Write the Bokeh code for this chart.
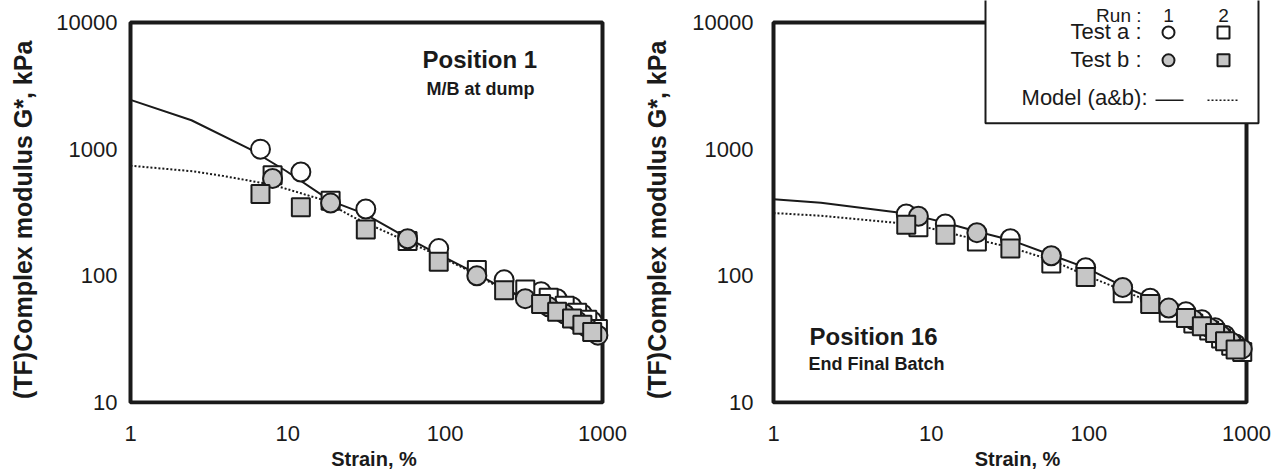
from bokeh.plotting import figure
from bokeh.layouts import row
from bokeh.models import Range1d, FixedTicker, PrintfTickFormatter, Label
from bokeh.embed import file_html
from bokeh.resources import INLINE

# ---------------- data ----------------
x_ticks = [1, 10, 100, 1000]
y_ticks = [10, 100, 1000, 10000]

# Position 1 (M/B at dump)
p1_strain_A = [6.7, 12.1, 31.3, 91, 237, 407, 515, 640, 745, 860]
p1_strain_B = [8.0, 18.7, 57.7, 159, 323, 455, 575, 690, 800, 935]
p1_test_a_run1 = [1000, 660, 337, 164, 93, 75, 66, 57, 50, 44]      # strain_A
p1_test_b_run2 = [442, 347, 232, 129, 77, 60, 52, 46, 41, 36]       # strain_A
p1_test_a_run2 = [622, 392, 188, 111, 78, 67, 58, 51, 45, 38]       # strain_B
p1_test_b_run1 = [587, 375, 196, 100, 66, 57, 50, 44, 39, 34]       # strain_B
p1_model1_x = [1, 2.44, 5.7, 9.7, 18.7, 30.8, 57, 81, 137, 202, 300, 500, 700, 1000]
p1_model1_y = [2450, 1690, 1005, 675, 390, 308, 200, 159, 114, 88, 69, 51, 41, 32]
p1_model2_x = [1, 2.5, 3.86, 8.15, 12, 16.1, 26.2, 47.2, 80, 137, 202, 300, 500, 700, 1000]
p1_model2_y = [740, 668, 615, 520, 450, 403, 290, 208, 155, 112, 86, 68, 50, 40, 32]

# Position 16 (End Final Batch)
p16_strain_A = [6.95, 12.3, 31.8, 95.5, 245, 413, 521, 632, 731, 853]
p16_strain_B = [8.3, 19.5, 57.8, 164, 321, 460, 580, 690, 800, 940]
p16_test_a_run1 = [308, 257, 196, 116, 66.5, 52, 45, 39, 34, 29]       # strain_A
p16_test_b_run2 = [253, 211, 164, 98, 60, 46.4, 40, 35.4, 30.5, 26.2]  # strain_A
p16_test_b_run1 = [295, 219, 144, 81, 55.6, 45, 39, 34, 30, 26.5]      # strain_B
p16_test_a_run2 = [242, 187, 125, 73, 51, 42, 37, 32, 28, 25]          # strain_B
p16_model1_x = [1, 2, 6, 8.3, 12.3, 19.5, 31.8, 57.8, 95.5, 164, 245, 321, 500, 700, 1000]
p16_model1_y = [403, 378, 318, 296, 262, 224, 192, 146, 116, 83, 67, 56, 43, 35, 27]
p16_model2_x = [1, 2, 6, 8.3, 12.3, 19.5, 31.8, 57.8, 95.5, 164, 245, 321, 500, 700, 1000]
p16_model2_y = [313, 298, 262, 250, 222, 193, 168, 133, 101, 77, 62, 53, 41, 33, 26]

# ---------------- style ----------------
FONT = "Liberation Sans"
INK = "#1a1a1a"
GREY = "#c6c6c6"
NBSP = "\u00a0"
X_LABEL = "Strain, %"
Y_LABEL = "(TF)Complex modulus G*, kPa"


class Panel:
    """A log-log panel whose drawn box (1..1000 x 10..10000) sits at given page pixels."""

    def __init__(self, fig_x0, box, frame, y_tick_gap, ylabel_standoff):
        self.bl, self.br, self.bt, self.bb = box
        self.fl, self.fr, self.ft, self.fb = frame
        self.dx = (self.br - self.bl) / 3.0
        self.dy = (self.bb - self.bt) / 3.0
        x0 = 10 ** ((self.fl - self.bl) / self.dx)
        x1 = 10 ** ((self.fr - self.bl) / self.dx)
        y0 = 10 ** (1 - (self.fb - self.bb) / self.dy)
        y1 = 10 ** (4 + (self.bt - self.ft) / self.dy)
        p = figure(width=636, height=472, x_axis_type="log", y_axis_type="log",
                   x_range=Range1d(x0, x1), y_range=Range1d(y0, y1),
                   output_backend="svg", toolbar_location=None, title=None,
                   min_border_left=self.fl - fig_x0,
                   min_border_right=fig_x0 + 636 - self.fr,
                   min_border_top=self.ft, min_border_bottom=472 - self.fb)
        p.outline_line_color = None
        p.grid.visible = False
        p.background_fill_color = "white"
        p.border_fill_color = "white"
        for ax in (p.xaxis[0], p.yaxis[0]):
            ax.axis_line_color = None
            ax.major_tick_line_color = None
            ax.minor_tick_line_color = None
            ax.major_tick_out = 0
            ax.major_tick_in = 0
            ax.minor_tick_out = 0
            ax.minor_tick_in = 0
            ax.major_label_text_font = FONT
            ax.major_label_text_font_size = "22px"
            ax.major_label_text_color = INK
            ax.axis_label_text_font = FONT
            ax.axis_label_text_font_style = "bold"
            ax.axis_label_text_color = INK
            ax.formatter = PrintfTickFormatter(format="%d")
        xa, ya = p.xaxis[0], p.yaxis[0]
        xa.ticker = FixedTicker(ticks=x_ticks, minor_ticks=[])
        ya.ticker = FixedTicker(ticks=y_ticks, minor_ticks=[])
        ya.bounds = (y_ticks[0], y_ticks[-1])
        xa.axis_label = X_LABEL
        xa.axis_label_text_font_size = "20px"
        xa.major_label_standoff = 23 - (self.fb - self.bb)
        xa.axis_label_standoff = 4
        ya.axis_label = Y_LABEL + NBSP * 5
        ya.axis_label_text_font_size = "25px"
        ya.major_label_standoff = y_tick_gap - (self.bl - self.fl)
        ya.axis_label_standoff = ylabel_standoff
        # the heavy plot box
        p.quad(left=[x_ticks[0]], right=[x_ticks[-1]], bottom=[y_ticks[0]],
               top=[y_ticks[-1]], fill_color=None, line_color=INK, line_width=4)
        self.p = p

    # page pixel -> data (for legend decorations)
    def dxp(self, sx):
        return 10 ** ((sx - self.bl) / self.dx)

    def dyp(self, sy):
        return 10 ** (4 - (sy - self.bt) / self.dy)

    def text(self, sx, sy, text, size, bold=False, align="left", baseline="middle"):
        self.p.add_layout(Label(x=sx - self.fl, y=self.fb - sy,
                                x_units="screen", y_units="screen", text=text,
                                text_font=FONT, text_font_size=size,
                                text_font_style="bold" if bold else "normal",
                                text_color=INK, text_align=align,
                                text_baseline=baseline))

    def series(self, sA, sB, a1, b2, a2, b1, m1x, m1y, m2x, m2y):
        p = self.p
        p.line(m1x, m1y, line_color=INK, line_width=2)
        p.line(m2x, m2y, line_color=INK, line_width=2, line_dash="2 2")
        p.scatter(sA, a1, marker="circle", size=19, fill_color="white",
                  line_color=INK, line_width=2)
        p.scatter(sB, a2, marker="square", size=18, fill_color="white",
                  line_color=INK, line_width=2)
        p.scatter(sB, b1, marker="circle", size=19, fill_color=GREY,
                  line_color=INK, line_width=2)
        p.scatter(sA, b2, marker="square", size=18, fill_color=GREY,
                  line_color=INK, line_width=2)


# ---------------- panel 1 ----------------
P1 = Panel(0, box=(130, 602, 22, 403), frame=(125, 622, 0, 405),
           y_tick_gap=13, ylabel_standoff=16)
P1.series(p1_strain_A, p1_strain_B, p1_test_a_run1, p1_test_b_run2,
          p1_test_a_run2, p1_test_b_run1, p1_model1_x, p1_model1_y,
          p1_model2_x, p1_model2_y)
P1.text(422, 60, "Position 1", "24px", bold=True)
P1.text(426, 89, "M/B at dump", "18px", bold=True)

# ---------------- panel 2 ----------------
P2 = Panel(636, box=(773, 1246, 22, 403), frame=(768, 1266, 0, 405),
           y_tick_gap=20, ylabel_standoff=18)
P2.series(p16_strain_A, p16_strain_B, p16_test_a_run1, p16_test_b_run2,
          p16_test_a_run2, p16_test_b_run1, p16_model1_x, p16_model1_y,
          p16_model2_x, p16_model2_y)
P2.text(809, 337, "Position 16", "24px", bold=True)
P2.text(808, 364, "End Final Batch", "18px", bold=True)

# legend box and keys (top-right of panel 2)
p2 = P2.p
p2.quad(left=[P2.dxp(985)], right=[P2.dxp(1258)], top=[P2.dyp(-10)],
        bottom=[P2.dyp(123)], fill_color="white", line_color=INK, line_width=2)
p2.scatter([P2.dxp(1168)], [P2.dyp(32)], marker="circle", size=12,
           fill_color="white", line_color=INK, line_width=2)
p2.scatter([P2.dxp(1223)], [P2.dyp(32)], marker="square", size=12,
           fill_color="white", line_color=INK, line_width=2)
p2.scatter([P2.dxp(1168)], [P2.dyp(60)], marker="circle", size=12,
           fill_color=GREY, line_color=INK, line_width=2)
p2.scatter([P2.dxp(1223)], [P2.dyp(60)], marker="square", size=12,
           fill_color=GREY, line_color=INK, line_width=2)
p2.line([P2.dxp(1155), P2.dxp(1183)], [P2.dyp(100), P2.dyp(100)],
        line_color=INK, line_width=1.5)
p2.line([P2.dxp(1207), P2.dxp(1238)], [P2.dyp(100), P2.dyp(100)],
        line_color=INK, line_width=1.5, line_dash="2 2")

P2.text(1141, 16, "Run :", "19px", align="right", baseline="alphabetic")
P2.text(1168, 16, "1", "19px", align="center", baseline="alphabetic")
P2.text(1223, 16, "2", "19px", align="center", baseline="alphabetic")
P2.text(1141, 32, "Test a :", "22px", align="right")
P2.text(1141, 60, "Test b :", "22px", align="right")
P2.text(1147, 98, "Model (a&b):", "22px", align="right")

layout = row(P1.p, P2.p, spacing=0)
open("out.html", "w").write(file_html(layout, INLINE))
